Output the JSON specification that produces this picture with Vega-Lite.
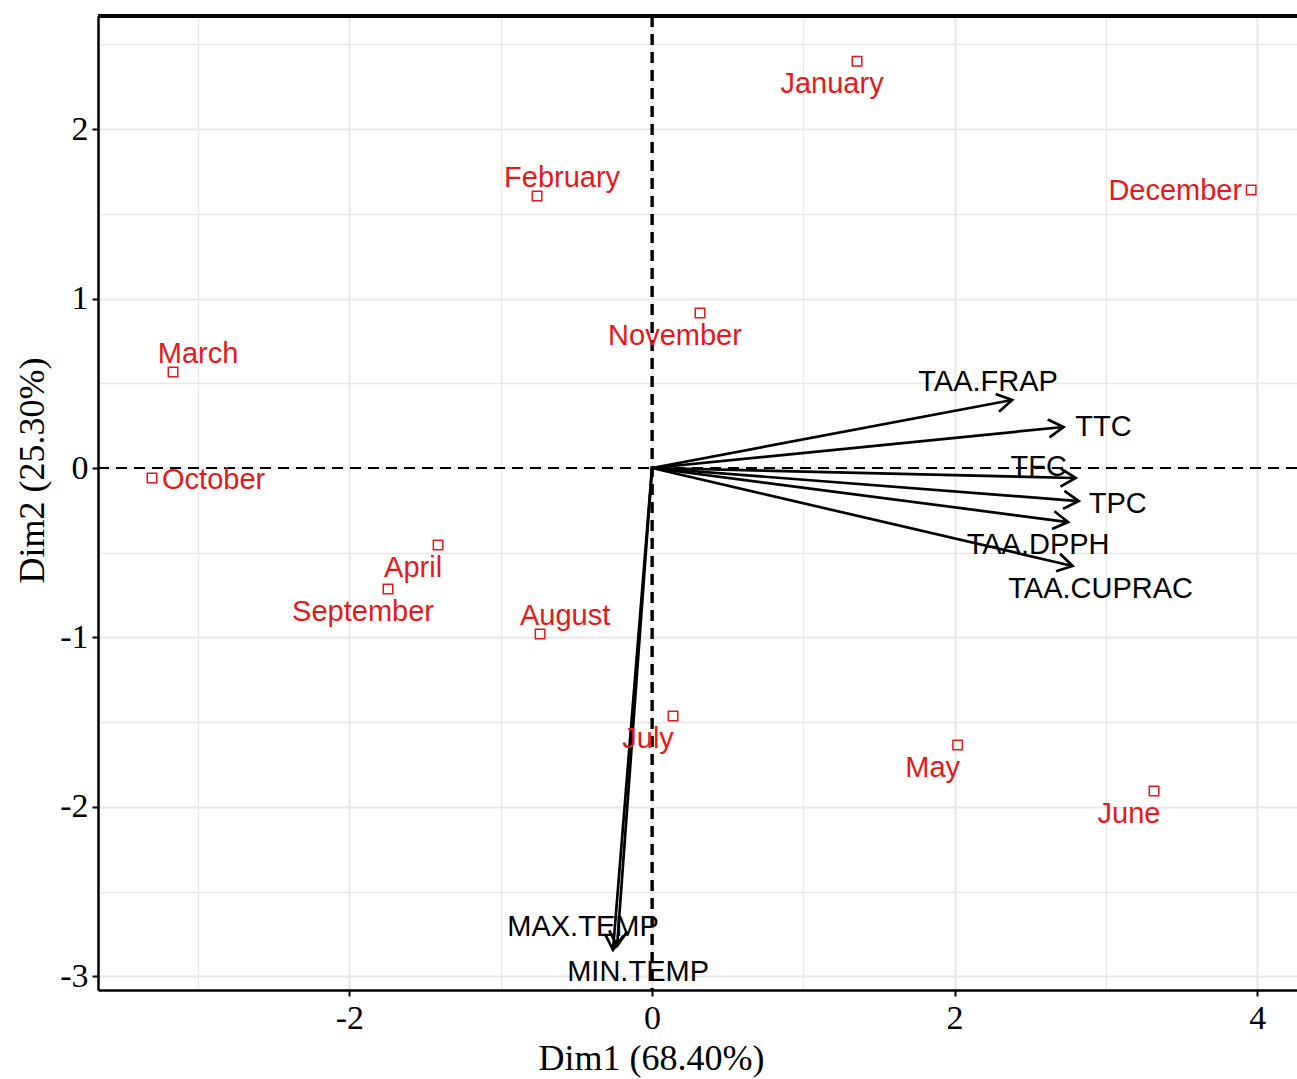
{
  "$schema": "https://vega.github.io/schema/vega-lite/v6.json",
  "autosize": "none",
  "width": 1199,
  "height": 974,
  "padding": {"left": 98, "top": 16, "right": 0, "bottom": 89},
  "background": "white",
  "config": {"view": {"stroke": null}},
  "datasets": {
    "months": [
      {"name": "January", "x": 1.355, "y": 2.40},
      {"name": "February", "x": -0.76, "y": 1.605},
      {"name": "March", "x": -3.166, "y": 0.566},
      {"name": "April", "x": -1.414, "y": -0.454},
      {"name": "May", "x": 2.02, "y": -1.634},
      {"name": "June", "x": 3.318, "y": -1.906},
      {"name": "July", "x": 0.139, "y": -1.463},
      {"name": "August", "x": -0.74, "y": -0.979},
      {"name": "September", "x": -1.745, "y": -0.714},
      {"name": "October", "x": -3.305, "y": -0.059},
      {"name": "November", "x": 0.317, "y": 0.914},
      {"name": "December", "x": 3.96, "y": 1.64}
    ],
    "vars": [
      {"name": "TAA.FRAP", "x": 2.38, "y": 0.401},
      {"name": "TTC", "x": 2.72, "y": 0.242},
      {"name": "TFC", "x": 2.80, "y": -0.059},
      {"name": "TPC", "x": 2.82, "y": -0.195},
      {"name": "TAA.DPPH", "x": 2.75, "y": -0.319},
      {"name": "TAA.CUPRAC", "x": 2.78, "y": -0.578},
      {"name": "MAX.TEMP", "x": -0.258, "y": -2.844},
      {"name": "MIN.TEMP", "x": -0.231, "y": -2.82}
    ]
  },
  "layer": [
    {
      "data": {"name": "months"},
      "mark": {"type": "point", "shape": "square", "filled": false, "stroke": "#e3191c", "strokeWidth": 1.5, "size": 90, "opacity": 1},
      "encoding": {
        "x": {"field": "x", "type": "quantitative", "title": "Dim1 (68.40%)",
          "scale": {"domain": [-3.662, 4.263], "nice": false, "zero": false},
          "axis": {"orient": "bottom", "values": [-3, -2, -1, 0, 1, 2, 3, 4], "grid": true, "gridColor": "#e8e8e8",
            "gridWidth": {"condition": {"test": "datum.value % 2 === 0", "value": 2}, "value": 1.3},
            "tickOpacity": {"condition": {"test": "datum.value % 2 === 0", "value": 1}, "value": 0},
            "domainColor": "black", "domainWidth": 2.5, "tickColor": "black", "tickWidth": 2, "tickSize": 6,
            "labelFont": "Liberation Serif", "labelFontSize": 34, "labelColor": "black", "labelPadding": 5, "labelFlush": false,
            "labelExpr": "datum.value % 2 === 0 ? (datum.value < 0 ? '-' + abs(datum.value) : '' + datum.value) : ''",
            "titleFont": "Liberation Serif", "titleFontSize": 36, "titleFontWeight": "normal",
            "titleColor": "black", "titleX": 553, "titleY": 79, "titleBaseline": "alphabetic", "titleAlign": "center"}},
        "y": {"field": "y", "type": "quantitative", "title": "Dim2 (25.30%)",
          "scale": {"domain": [-3.08, 2.667], "nice": false, "zero": false},
          "axis": {"orient": "left", "values": [-3, -2.5, -2, -1.5, -1, -0.5, 0, 0.5, 1, 1.5, 2, 2.5], "grid": true, "gridColor": "#e8e8e8",
            "gridWidth": {"condition": {"test": "datum.value % 1 === 0", "value": 2}, "value": 1.3},
            "tickOpacity": {"condition": {"test": "datum.value % 1 === 0", "value": 1}, "value": 0},
            "domainColor": "black", "domainWidth": 2.5, "tickColor": "black", "tickWidth": 2, "tickSize": 6,
            "labelFont": "Liberation Serif", "labelFontSize": 34, "labelColor": "black", "labelPadding": 4, "labelFlush": false,
            "labelExpr": "datum.value % 1 === 0 ? (datum.value < 0 ? '-' + abs(datum.value) : '' + datum.value) : ''",
            "titleFont": "Liberation Serif", "titleFontSize": 36, "titleFontWeight": "normal",
            "titleColor": "black", "titleX": -55, "titleY": 454, "titleAngle": -90, "titleBaseline": "alphabetic", "titleAlign": "center"}}
      }
    },
    {
      "data": {"name": "months"},
      "mark": {"type": "rule", "color": "black", "strokeWidth": 2.5},
      "encoding": {
        "y": {"datum": 2.667, "type": "quantitative", "title": "Dim2 (25.30%)", "scale": {"domain": [-3.08, 2.667], "nice": false, "zero": false}}
      }
    },
    {
      "data": {"name": "months"},
      "mark": {"type": "rule", "color": "black", "strokeWidth": 2.2, "strokeDash": [11, 7]},
      "encoding": {
        "x": {"datum": 0, "type": "quantitative", "title": "Dim1 (68.40%)", "scale": {"domain": [-3.662, 4.263], "nice": false, "zero": false}}
      }
    },
    {
      "data": {"name": "months"},
      "mark": {"type": "rule", "color": "black", "strokeWidth": 2.2, "strokeDash": [11, 7]},
      "encoding": {
        "y": {"datum": 0, "type": "quantitative", "title": "Dim2 (25.30%)", "scale": {"domain": [-3.08, 2.667], "nice": false, "zero": false}}
      }
    },
    {
      "data": {"name": "vars"},
      "mark": {"type": "rule", "color": "black", "strokeWidth": 2.7},
      "encoding": {
        "x": {"field": "x", "type": "quantitative", "title": "Dim1 (68.40%)", "scale": {"domain": [-3.662, 4.263], "nice": false, "zero": false}},
        "y": {"field": "y", "type": "quantitative", "title": "Dim2 (25.30%)", "scale": {"domain": [-3.08, 2.667], "nice": false, "zero": false}},
        "x2": {"datum": 0},
        "y2": {"datum": 0}
      }
    },
    {
      "data": {"name": "vars"},
      "transform": [{"calculate": "atan2(-datum.y * 169.5, datum.x * 151.3) * 180 / PI", "as": "ang"}],
      "mark": {"type": "point", "shape": "M-1,-0.6L0,0L-1,0.6", "filled": false, "stroke": "black", "strokeWidth": 2.7, "size": 900, "opacity": 1},
      "encoding": {
        "x": {"field": "x", "type": "quantitative", "title": "Dim1 (68.40%)", "scale": {"domain": [-3.662, 4.263], "nice": false, "zero": false}},
        "y": {"field": "y", "type": "quantitative", "title": "Dim2 (25.30%)", "scale": {"domain": [-3.08, 2.667], "nice": false, "zero": false}},
        "angle": {"field": "ang", "type": "quantitative", "scale": null}
      }
    },
    {
      "data": {"name": "months"},
      "transform": [{"filter": {"field": "name", "oneOf": ["January", "November", "April", "September", "July", "May", "June"]}}],
      "mark": {"type": "text", "font": "Liberation Sans", "fontSize": 29, "fill": "#e3191c", "align": "center", "baseline": "middle", "dx": -25, "dy": 23},
      "encoding": {
        "x": {"field": "x", "type": "quantitative", "title": "Dim1 (68.40%)", "scale": {"domain": [-3.662, 4.263], "nice": false, "zero": false}},
        "y": {"field": "y", "type": "quantitative", "title": "Dim2 (25.30%)", "scale": {"domain": [-3.08, 2.667], "nice": false, "zero": false}},
        "text": {"field": "name"}
      }
    },
    {
      "data": {"name": "months"},
      "transform": [{"filter": {"field": "name", "oneOf": ["February", "March", "August"]}}],
      "mark": {"type": "text", "font": "Liberation Sans", "fontSize": 29, "fill": "#e3191c", "align": "center", "baseline": "middle", "dx": 25, "dy": -18},
      "encoding": {
        "x": {"field": "x", "type": "quantitative", "title": "Dim1 (68.40%)", "scale": {"domain": [-3.662, 4.263], "nice": false, "zero": false}},
        "y": {"field": "y", "type": "quantitative", "title": "Dim2 (25.30%)", "scale": {"domain": [-3.08, 2.667], "nice": false, "zero": false}},
        "text": {"field": "name"}
      }
    },
    {
      "data": {"name": "months"},
      "transform": [{"filter": "datum.name == 'December'"}],
      "mark": {"type": "text", "font": "Liberation Sans", "fontSize": 29, "fill": "#e3191c", "align": "right", "baseline": "middle", "dx": -9, "dy": 1},
      "encoding": {
        "x": {"field": "x", "type": "quantitative", "title": "Dim1 (68.40%)", "scale": {"domain": [-3.662, 4.263], "nice": false, "zero": false}},
        "y": {"field": "y", "type": "quantitative", "title": "Dim2 (25.30%)", "scale": {"domain": [-3.08, 2.667], "nice": false, "zero": false}},
        "text": {"field": "name"}
      }
    },
    {
      "data": {"name": "months"},
      "transform": [{"filter": "datum.name == 'October'"}],
      "mark": {"type": "text", "font": "Liberation Sans", "fontSize": 29, "fill": "#e3191c", "align": "left", "baseline": "middle", "dx": 10, "dy": 2},
      "encoding": {
        "x": {"field": "x", "type": "quantitative", "title": "Dim1 (68.40%)", "scale": {"domain": [-3.662, 4.263], "nice": false, "zero": false}},
        "y": {"field": "y", "type": "quantitative", "title": "Dim2 (25.30%)", "scale": {"domain": [-3.08, 2.667], "nice": false, "zero": false}},
        "text": {"field": "name"}
      }
    },
    {
      "data": {"name": "vars"},
      "transform": [{"filter": "datum.name == 'TAA.FRAP'"}],
      "mark": {"type": "text", "font": "Liberation Sans", "fontSize": 29, "fill": "black", "align": "center", "baseline": "middle", "dx": -24, "dy": -18},
      "encoding": {
        "x": {"field": "x", "type": "quantitative", "title": "Dim1 (68.40%)", "scale": {"domain": [-3.662, 4.263], "nice": false, "zero": false}},
        "y": {"field": "y", "type": "quantitative", "title": "Dim2 (25.30%)", "scale": {"domain": [-3.08, 2.667], "nice": false, "zero": false}},
        "text": {"field": "name"}
      }
    },
    {
      "data": {"name": "vars"},
      "transform": [{"filter": "datum.name == 'TTC'"}],
      "mark": {"type": "text", "font": "Liberation Sans", "fontSize": 29, "fill": "black", "align": "center", "baseline": "middle", "dx": 40, "dy": 0},
      "encoding": {
        "x": {"field": "x", "type": "quantitative", "title": "Dim1 (68.40%)", "scale": {"domain": [-3.662, 4.263], "nice": false, "zero": false}},
        "y": {"field": "y", "type": "quantitative", "title": "Dim2 (25.30%)", "scale": {"domain": [-3.08, 2.667], "nice": false, "zero": false}},
        "text": {"field": "name"}
      }
    },
    {
      "data": {"name": "vars"},
      "transform": [{"filter": "datum.name == 'TFC'"}],
      "mark": {"type": "text", "font": "Liberation Sans", "fontSize": 29, "fill": "black", "align": "center", "baseline": "middle", "dx": -37, "dy": -11},
      "encoding": {
        "x": {"field": "x", "type": "quantitative", "title": "Dim1 (68.40%)", "scale": {"domain": [-3.662, 4.263], "nice": false, "zero": false}},
        "y": {"field": "y", "type": "quantitative", "title": "Dim2 (25.30%)", "scale": {"domain": [-3.08, 2.667], "nice": false, "zero": false}},
        "text": {"field": "name"}
      }
    },
    {
      "data": {"name": "vars"},
      "transform": [{"filter": "datum.name == 'TPC'"}],
      "mark": {"type": "text", "font": "Liberation Sans", "fontSize": 29, "fill": "black", "align": "center", "baseline": "middle", "dx": 39, "dy": 3},
      "encoding": {
        "x": {"field": "x", "type": "quantitative", "title": "Dim1 (68.40%)", "scale": {"domain": [-3.662, 4.263], "nice": false, "zero": false}},
        "y": {"field": "y", "type": "quantitative", "title": "Dim2 (25.30%)", "scale": {"domain": [-3.08, 2.667], "nice": false, "zero": false}},
        "text": {"field": "name"}
      }
    },
    {
      "data": {"name": "vars"},
      "transform": [{"filter": "datum.name == 'TAA.DPPH'"}],
      "mark": {"type": "text", "font": "Liberation Sans", "fontSize": 29, "fill": "black", "align": "center", "baseline": "middle", "dx": -30, "dy": 23},
      "encoding": {
        "x": {"field": "x", "type": "quantitative", "title": "Dim1 (68.40%)", "scale": {"domain": [-3.662, 4.263], "nice": false, "zero": false}},
        "y": {"field": "y", "type": "quantitative", "title": "Dim2 (25.30%)", "scale": {"domain": [-3.08, 2.667], "nice": false, "zero": false}},
        "text": {"field": "name"}
      }
    },
    {
      "data": {"name": "vars"},
      "transform": [{"filter": "datum.name == 'TAA.CUPRAC'"}],
      "mark": {"type": "text", "font": "Liberation Sans", "fontSize": 29, "fill": "black", "align": "center", "baseline": "middle", "dx": 28, "dy": 23},
      "encoding": {
        "x": {"field": "x", "type": "quantitative", "title": "Dim1 (68.40%)", "scale": {"domain": [-3.662, 4.263], "nice": false, "zero": false}},
        "y": {"field": "y", "type": "quantitative", "title": "Dim2 (25.30%)", "scale": {"domain": [-3.08, 2.667], "nice": false, "zero": false}},
        "text": {"field": "name"}
      }
    },
    {
      "data": {"name": "vars"},
      "transform": [{"filter": "datum.name == 'MAX.TEMP'"}],
      "mark": {"type": "text", "font": "Liberation Sans", "fontSize": 29, "fill": "black", "align": "center", "baseline": "middle", "dx": -30, "dy": -23},
      "encoding": {
        "x": {"field": "x", "type": "quantitative", "title": "Dim1 (68.40%)", "scale": {"domain": [-3.662, 4.263], "nice": false, "zero": false}},
        "y": {"field": "y", "type": "quantitative", "title": "Dim2 (25.30%)", "scale": {"domain": [-3.08, 2.667], "nice": false, "zero": false}},
        "text": {"field": "name"}
      }
    },
    {
      "data": {"name": "vars"},
      "transform": [{"filter": "datum.name == 'MIN.TEMP'"}],
      "mark": {"type": "text", "font": "Liberation Sans", "fontSize": 29, "fill": "black", "align": "center", "baseline": "middle", "dx": 21, "dy": 26},
      "encoding": {
        "x": {"field": "x", "type": "quantitative", "title": "Dim1 (68.40%)", "scale": {"domain": [-3.662, 4.263], "nice": false, "zero": false}},
        "y": {"field": "y", "type": "quantitative", "title": "Dim2 (25.30%)", "scale": {"domain": [-3.08, 2.667], "nice": false, "zero": false}},
        "text": {"field": "name"}
      }
    }
  ]
}
